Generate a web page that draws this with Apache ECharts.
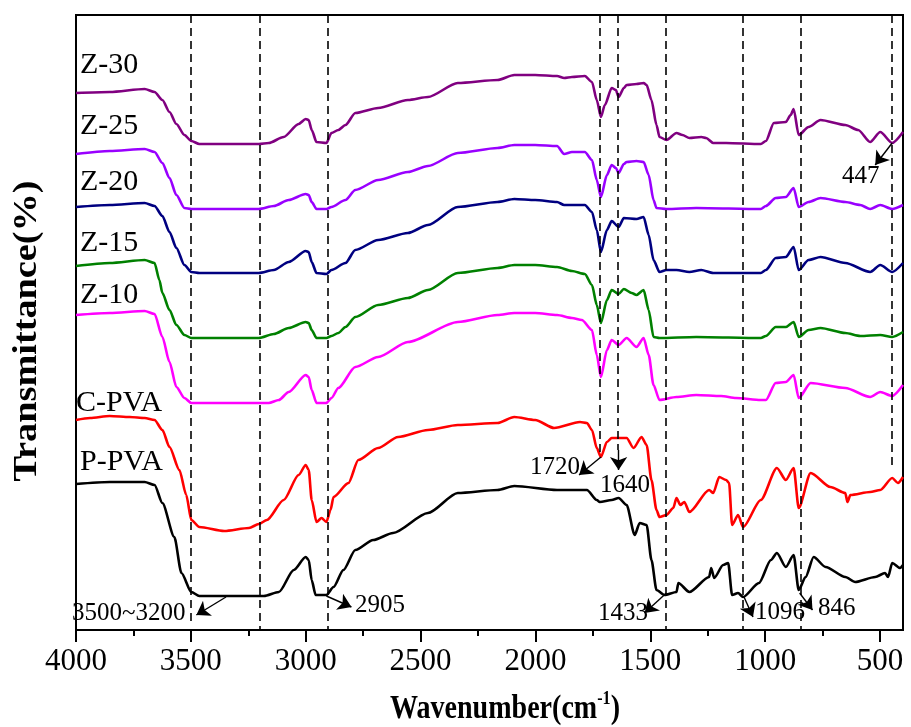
<!DOCTYPE html>
<html>
<head>
<meta charset="utf-8">
<script src="https://cdn.jsdelivr.net/npm/echarts@6/dist/echarts.min.js"></script>
<style>
html,body{margin:0;padding:0;background:#fff;}
#main{width:911px;height:727px;}
</style>
</head>
<body>
<div id="main"></div>
<script>
// 各样品红外谱图, [波数, 透过率(偏移后,任意单位)]
var z30 = [[4000,537],[3853,538],[3701,541],[3658,538],[3624,530],[3593,518],[3563,506],[3528,495],[3498,489],[3463,486],[3204,486],[3161,487],[3096,493],[3031,506],[3000,511],[2987,510],[2974,500],[2953,488],[2910,487],[2888,497],[2858,500],[2827,505],[2784,517],[2685,522],[2555,530],[2468,533],[2338,547],[2165,550],[2092,555],[2001,555],[1906,554],[1875,552],[1841,553],[1785,554],[1754,548],[1733,530],[1715,513],[1698,525],[1668,542],[1650,540],[1638,533],[1615,542],[1603,545],[1560,546],[1529,547],[1516,545],[1495,530],[1473,505],[1460,493],[1430,490],[1386,497],[1360,495],[1330,492],[1278,493],[1257,492],[1226,487],[1170,487],[1019,486],[997,489],[962,507],[910,508],[889,515],[876,521],[854,495],[811,503],[759,510],[651,505],[595,500],[543,488],[499,498],[447,487],[400,498]];
var z25 = [[4000,476],[3853,479],[3701,481],[3658,478],[3624,467],[3593,452],[3563,435],[3528,422],[3498,421],[3204,421],[3139,424],[3074,430],[3000,436],[2987,435],[2974,428],[2953,421],[2910,421],[2888,423],[2827,430],[2784,440],[2685,450],[2555,458],[2468,464],[2338,477],[2165,482],[2092,485],[2001,485],[1906,484],[1875,476],[1841,478],[1785,478],[1754,470],[1733,450],[1715,433],[1689,455],[1668,465],[1650,462],[1638,457],[1615,466],[1603,468],[1560,469],[1529,468],[1507,455],[1486,430],[1473,422],[1430,421],[1300,422],[1019,421],[997,424],[954,432],[910,433],[876,442],[854,423],[811,428],[759,432],[651,428],[586,425],[543,421],[499,425],[447,421],[400,425]];
var z20 = [[4000,423],[3853,425],[3701,427],[3658,424],[3624,414],[3593,398],[3563,382],[3528,365],[3498,358],[3463,357],[3204,357],[3139,360],[3074,368],[3000,379],[2987,378],[2974,368],[2953,357],[2910,356],[2888,360],[2827,367],[2784,380],[2685,390],[2555,397],[2468,405],[2338,423],[2165,428],[2092,431],[2001,430],[1906,428],[1875,425],[1785,425],[1754,418],[1733,400],[1715,378],[1689,400],[1668,409],[1638,403],[1615,412],[1560,411],[1529,413],[1507,395],[1486,370],[1460,358],[1430,360],[1386,360],[1330,358],[1278,360],[1226,357],[1019,357],[997,360],[954,372],[910,373],[876,383],[854,360],[811,370],[759,373],[651,367],[543,358],[499,365],[447,358],[400,367]];
var z15 = [[4000,364],[3853,367],[3701,370],[3658,367],[3637,350],[3624,337],[3593,320],[3563,305],[3528,295],[3498,292],[3204,292],[3139,296],[3074,302],[3000,308],[2987,307],[2974,300],[2953,292],[2910,292],[2888,294],[2858,297],[2827,303],[2784,313],[2685,325],[2555,332],[2468,340],[2338,357],[2165,362],[2092,365],[2001,365],[1906,363],[1841,359],[1785,356],[1754,345],[1733,325],[1715,307],[1689,330],[1668,340],[1638,336],[1615,341],[1581,337],[1560,335],[1529,340],[1507,320],[1486,293],[1460,292],[1300,293],[1019,292],[997,294],[954,303],[910,303],[876,308],[854,293],[811,300],[759,302],[651,297],[586,294],[499,295],[447,293],[400,298]];
var z10 = [[4000,315],[3853,317],[3701,319],[3658,316],[3624,293],[3593,268],[3563,243],[3528,232],[3498,227],[3161,227],[3117,230],[3074,238],[3000,255],[2987,253],[2974,240],[2953,227],[2910,227],[2888,232],[2858,242],[2784,263],[2685,273],[2555,288],[2338,308],[2165,315],[2092,317],[2001,317],[1906,315],[1841,312],[1798,310],[1754,300],[1733,275],[1715,253],[1689,280],[1668,290],[1638,285],[1603,292],[1560,283],[1529,292],[1507,275],[1486,245],[1460,230],[1386,233],[1300,235],[1192,234],[1127,232],[1019,230],[997,230],[954,247],[910,248],[876,255],[854,232],[802,247],[651,242],[543,233],[499,238],[447,234],[400,245]];
var cpva = [[4000,210],[3939,212],[3853,214],[3766,213],[3701,212],[3658,210],[3624,200],[3593,183],[3550,160],[3520,135],[3498,110],[3463,103],[3355,99],[3247,102],[3204,106],[3169,110],[3096,130],[3031,155],[3000,165],[2987,160],[2974,130],[2953,108],[2931,112],[2910,108],[2892,120],[2879,133],[2814,147],[2771,170],[2685,182],[2598,193],[2468,200],[2338,205],[2165,207],[2092,213],[2001,210],[1919,202],[1806,208],[1776,207],[1754,200],[1733,182],[1715,173],[1689,188],[1668,192],[1603,192],[1573,182],[1538,193],[1516,185],[1495,150],[1473,120],[1460,113],[1430,115],[1400,122],[1386,132],[1369,125],[1352,128],[1330,118],[1244,140],[1226,137],[1200,153],[1170,150],[1157,147],[1144,105],[1118,115],[1096,103],[1019,130],[949,162],[910,150],[876,162],[854,122],[802,157],[716,143],[651,137],[642,128],[629,135],[543,138],[499,140],[447,152],[422,147],[400,153]];
var ppva = [[4000,146],[3853,148],[3701,148],[3658,145],[3624,127],[3572,93],[3541,57],[3498,38],[3463,34],[3182,34],[3117,38],[3052,60],[3000,73],[2987,70],[2974,50],[2957,35],[2910,35],[2879,43],[2836,60],[2784,80],[2706,90],[2620,97],[2468,117],[2338,137],[2165,140],[2092,144],[1906,140],[1776,140],[1733,130],[1720,128],[1668,130],[1638,132],[1603,125],[1568,95],[1546,107],[1516,105],[1495,70],[1473,40],[1438,35],[1386,38],[1378,47],[1330,38],[1244,53],[1235,62],[1222,52],[1183,65],[1161,67],[1144,35],[1118,37],[1096,33],[1027,47],[975,70],[949,77],[910,63],[876,75],[854,40],[824,53],[789,73],[737,63],[651,53],[608,48],[521,53],[478,57],[465,53],[447,67],[413,62],[400,65]];

var names  = ['Z-30','Z-25','Z-20','Z-15','Z-10','C-PVA','P-PVA'];
var colors = ['#800080','#9900ff','#000080','#008000','#ff00ff','#ff0000','#000000'];
var curves = [z30,z25,z20,z15,z10,cpva,ppva];

// 特征峰虚线: [波数, 下端]
var peakLines = [[3500,8],[3200,0],[2905,0],[1720,173],[1640,180],[1433,0],[1096,0],[846,0],[447,165]];
// 箭头: [起点波数, 起点值, 终点波数, 终点值]
var arrows = [[3347,33,3476,15],[2910,34,2801,23],[1715,173,1810,155],[1638,180,1638,160],[1430,37,1525,17],[1092,33,1053,13],[850,37,794,20],[447,487,521,465]];

var majorTicks = [500,1000,1500,2000,2500,3000,3500,4000];
var minorTicks = [750,1250,1750,2250,2750,3250,3750];

var serif = '"Liberation Serif","Times New Roman",serif';

var chart = echarts.init(document.getElementById('main'));

var series = [];
for (var i=0;i<curves.length;++i) {
	series.push({
		type: 'line',
		name: names[i],
		data: curves[i],
		showSymbol: false,
		symbol: 'none',
		smooth: 0.25,
		smoothMonotone: 'x',
		z: 3,
		lineStyle: {color: colors[i], width: 2.6},
		animation: false
	});
}
// 虚线
var dashData = [];
for (var i=0;i<peakLines.length;++i) {
	dashData.push({coords: [[peakLines[i][0],615],[peakLines[i][0],peakLines[i][1]]]});
}
series.push({
	type: 'lines',
	coordinateSystem: 'cartesian2d',
	data: dashData,
	z: 4,
	lineStyle: {color: '#000', width: 1.6, type: [8,5], opacity: 1},
	animation: false
});
// 箭头
var arrowData = [];
for (var i=0;i<arrows.length;++i) {
	arrowData.push({coords: [[arrows[i][0],arrows[i][1]],[arrows[i][2],arrows[i][3]]]});
}
series.push({
	type: 'lines',
	coordinateSystem: 'cartesian2d',
	data: arrowData,
	symbol: ['none','arrow'],
	symbolSize: [0,13],
	z: 5,
	lineStyle: {color: '#000', width: 1.4, opacity: 1},
	animation: false
});

// 文字标注 (像素位置)
var texts = [
	['Z-30',80,65,30],['Z-25',80,126,30],['Z-20',80,182,30],['Z-15',80,243,30],['Z-10',80,295,30],
	['C-PVA',76,403,30],['P-PVA',80,462,30],
	['3500~3200',72,613,25],['2905',355,605,25],['1720',530,467,25],['1640',600,485,25],
	['1433',598,613,25],['1096',755,612,25],['846',818,608,25],['447',842,176,25]
];
var graphic = [];
for (var i=0;i<texts.length;++i) {
	graphic.push({
		type: 'text', x: texts[i][1], y: texts[i][2], z: 10,
		style: {text: texts[i][0], font: texts[i][3]+'px '+serif, fill: '#000', align: 'left', verticalAlign: 'middle'}
	});
}
graphic.push({
	type: 'text', x: 505, y: 709, z: 10, scaleX: 0.85,
	style: {
		text: '{a|Wavenumber(cm}{s|-1}{a|)}',
		align: 'center', verticalAlign: 'middle',
		rich: {
			a: {fontFamily: serif, fontWeight: 'bold', fontSize: 33, fill: '#000', lineHeight: 38},
			s: {fontFamily: serif, fontWeight: 'bold', fontSize: 19, fill: '#000', lineHeight: 38, verticalAlign: 'top'}
		}
	}
});
graphic.push({
	type: 'text', x: 27, y: 331, z: 10, rotation: Math.PI/2, scaleX: 1.16,
	style: {text: 'Transmittance(%)', font: 'bold 33px '+serif, fill: '#000', align: 'center', verticalAlign: 'middle'}
});

var option = {
	animation: false,
	backgroundColor: '#fff',
	grid: {left: 76, right: 3, top: 15, bottom: 97, show: true, borderColor: '#000', borderWidth: 2, backgroundColor: 'transparent'},
	xAxis: [{
		type: 'value', min: 400, max: 4000, inverse: true,
		axisLine: {lineStyle: {color: '#000', width: 2}},
		axisTick: {show: true, inside: false, length: 12, lineStyle: {color: '#000', width: 2}, customValues: majorTicks},
		axisLabel: {
			customValues: majorTicks, color: '#000', fontFamily: serif, fontSize: 31, margin: 16,
			formatter: function(v){ return String(v); }
		},
		splitLine: {show: false}
	},{
		type: 'value', min: 400, max: 4000, inverse: true, position: 'bottom',
		axisLine: {show: false},
		axisTick: {show: true, inside: false, length: 6, lineStyle: {color: '#000', width: 2}, customValues: minorTicks},
		axisLabel: {show: false},
		splitLine: {show: false}
	}],
	yAxis: {
		type: 'value', min: 0, max: 615,
		axisLine: {show: true, lineStyle: {color: '#000', width: 2}},
		axisTick: {show: false},
		axisLabel: {show: false},
		splitLine: {show: false}
	},
	series: series,
	graphic: graphic
};
chart.setOption(option);
</script>
</body>
</html>
